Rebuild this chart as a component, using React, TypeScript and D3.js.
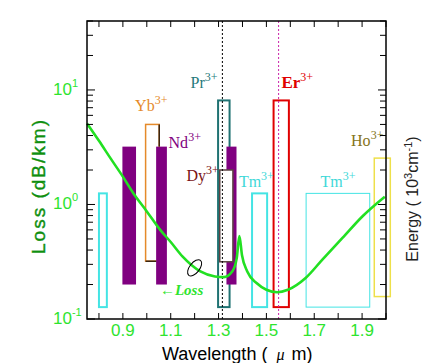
import * as d3 from "d3";

// fibre loss curve (wavelength in um, loss in dB/km)
const lossWavelength = [
  0.75, 0.8, 0.85, 0.9, 0.943, 1.0, 1.056, 1.1, 1.15, 1.224, 1.285, 1.322, 1.357, 1.376,
  1.387, 1.398, 1.42, 1.46, 1.5, 1.545, 1.59, 1.664, 1.734, 1.818, 1.902, 1.995,
];
const lossValue = [
  5.1, 3.6, 2.5, 1.75, 1.26, 0.87, 0.6, 0.47, 0.35, 0.26, 0.235, 0.232, 0.26, 0.34,
  0.53, 0.36, 0.26, 0.205, 0.18, 0.171, 0.18, 0.228, 0.33, 0.51, 0.79, 1.17,
];

// emission bands of the rare-earth ions
const bandIon = ["Tm", "Tm", "Tm", "Yb", "Pr", "Nd", "Nd", "Nd", "Dy", "Er", "Ho"];
const bandFrom = [0.8, 1.44, 1.666, 0.995, 1.298, 0.898, 1.039, 1.333, 1.305, 1.53, 1.951];
const bandTo = [0.833, 1.503, 1.932, 1.052, 1.346, 0.955, 1.084, 1.375, 1.36, 1.594, 2.018];
const bandTop = [1.25, 1.25, 1.25, 5.0, 8.1, 3.2, 3.2, 3.2, 2.0, 8.1, 2.54];
const bandBottom = [0.127, 0.127, 0.127, 0.32, 0.127, 0.2, 0.2, 0.2, 0.316, 0.127, 0.157];

// ion labels, anchored in data coordinates
const labelIon = ["Pr", "Yb", "Nd", "Dy", "Er", "Tm", "Tm", "Ho"];
const labelWavelength = [1.183, 0.951, 1.091, 1.166, 1.563, 1.385, 1.726, 1.854];
const labelValue = [10.4, 6.6, 3.12, 1.59, 10.4, 1.41, 1.41, 3.22];

const xTickLabels = ["0.9", "1.1", "1.3", "1.5", "1.7", "1.9"];
const yTickExponents = ["1", "0", "-1"];
const markerLines = [1.316, 1.551];

const width = 429;
const height = 363;
const margin = { top: 21, right: 43, bottom: 44, left: 87 };

const ionStyle: Record<string, { stroke: string; fill: string; sw: number; text: string }> = {
  Tm: { stroke: "#44e4e4", fill: "none", sw: 2, text: "#3ed8d8" },
  Yb: { stroke: "#e58a2a", fill: "none", sw: 1.5, text: "#e58a2a" },
  Pr: { stroke: "#1f7272", fill: "none", sw: 2, text: "#1f7a7a" },
  Nd: { stroke: "none", fill: "#800080", sw: 0, text: "#800080" },
  Dy: { stroke: "#5c4444", fill: "#ffffff", sw: 1.5, text: "#7a1414" },
  Er: { stroke: "#e00000", fill: "none", sw: 2, text: "#e00000" },
  Ho: { stroke: "#eee04a", fill: "none", sw: 1.5, text: "#857520" },
};

const green = "#2ee42e";

export default function App() {
  const x = d3.scaleLinear([0.75, 2.0], [margin.left, width - margin.right]);
  const y = d3.scaleLog([0.1, 40], [height - margin.bottom, margin.top]);

  const line = d3
    .line<number>()
    .x((_, i) => x(lossWavelength[i]))
    .y((d) => y(d))
    .curve(d3.curveMonotoneX);

  const xTicks = d3.range(8, 21).map((d) => d / 10);
  const yTicks = y.ticks();
  const isMajor = (v: number) => Math.abs(Math.log10(v) - Math.round(Math.log10(v))) < 1e-6;

  const x0 = x(0.75);
  const x1 = x(2.0);
  const y0 = y(0.1);
  const y1 = y(40);

  return (
    <svg
      width={width}
      height={height}
      style={{ position: "absolute", left: 0, top: 0, background: "#fff" }}
    >
      {/* bands */}
      {bandIon.map((ion, i) => {
        const s = ionStyle[ion];
        const sw = ion === "Tm" && i === 2 ? 1 : s.sw;
        return (
          <rect
            key={i}
            x={x(bandFrom[i])}
            y={y(bandTop[i])}
            width={x(bandTo[i]) - x(bandFrom[i])}
            height={y(bandBottom[i]) - y(bandTop[i])}
            fill={s.fill}
            stroke={s.stroke}
            strokeWidth={sw}
          />
        );
      })}
      {/* darker right / bottom edge of the Yb band */}
      <path
        d={`M${x(1.052)},${y(5.0)}V${y(3.2)}M${x(0.995)},${y(0.32)}H${x(1.039)}`}
        stroke="#3a2410"
        strokeWidth={1.5}
        fill="none"
      />

      {/* marker lines */}
      {markerLines.map((w, i) => (
        <line
          key={i}
          x1={x(w)}
          x2={x(w)}
          y1={y1}
          y2={y0}
          stroke={i === 0 ? "#000" : "#cc22aa"}
          strokeWidth={1}
          strokeDasharray="2,2"
        />
      ))}

      {/* loss curve */}
      <path d={line(lossValue) ?? ""} fill="none" stroke="#22e022" strokeWidth={2.6} />

      {/* ellipse marking the curve */}
      <ellipse
        cx={x(1.2)}
        cy={y(0.28)}
        rx={9.5}
        ry={5}
        transform={`rotate(-52 ${x(1.2)} ${y(0.28)})`}
        fill="none"
        stroke="#000"
        strokeWidth={1}
      />
      <text
        x={x(1.055)}
        y={y(0.163)}
        fill={green}
        fontFamily="Liberation Serif"
        fontStyle="italic"
        fontWeight="bold"
        fontSize={15}
      >
        ←Loss
      </text>

      {/* ion labels */}
      {labelIon.map((ion, i) => (
        <text
          key={i}
          x={x(labelWavelength[i])}
          y={y(labelValue[i])}
          fill={ionStyle[ion].text}
          fontFamily="Liberation Serif"
          fontWeight={ion === "Er" ? "bold" : "normal"}
          fontSize={ion === "Er" ? 17 : 16}
        >
          {ion}
          <tspan dy={-7} fontSize={12} fontWeight="normal">
            3+
          </tspan>
        </text>
      ))}

      {/* frame */}
      <rect x={x0} y={y1} width={x1 - x0} height={y0 - y1} fill="none" stroke="#000" strokeWidth={1.5} />

      {/* x ticks, bottom and top, inward */}
      {xTicks.map((t) => (
        <g key={t}>
          <line x1={x(t)} x2={x(t)} y1={y0} y2={y0 - 6} stroke="#000" />
          <line x1={x(t)} x2={x(t)} y1={y1} y2={y1 + 6} stroke="#000" />
        </g>
      ))}
      {xTickLabels.map((l) => (
        <text
          key={l}
          x={x(+l)}
          y={y0 + 17}
          textAnchor="middle"
          fill={green}
          fontFamily="Liberation Sans"
          fontSize={17}
        >
          {l}
        </text>
      ))}

      {/* y ticks, left and right, inward */}
      {yTicks.map((t, i) => {
        const len = isMajor(t) ? 8 : 6;
        return (
          <g key={i}>
            <line x1={x0} x2={x0 + len} y1={y(t)} y2={y(t)} stroke="#000" />
            <line x1={x1} x2={x1 - len} y1={y(t)} y2={y(t)} stroke="#000" />
          </g>
        );
      })}
      {yTickExponents.map((e) => (
        <text
          key={e}
          x={53}
          y={y(Math.pow(10, +e)) + 5}
          fill={green}
          fontFamily="Liberation Sans"
          fontSize={17}
        >
          10
          <tspan dy={-8} fontSize={11}>
            {e}
          </tspan>
        </text>
      ))}

      {/* axis titles */}
      <text
        transform={`translate(45,186) rotate(-90)`}
        textAnchor="middle"
        fill="#0f8f0f"
        stroke="#0f8f0f"
        strokeWidth={0.4}
        fontFamily="Liberation Sans"
        fontSize={19}
        letterSpacing={2}
      >
        Loss (dB/km)
      </text>
      <text x={162} y={360} fill="#000" fontFamily="Liberation Sans" fontSize={18}>
        Wavelength (
        <tspan dx={9} fontFamily="Liberation Serif" fontStyle="italic" fontSize={16}>
          μ
        </tspan>
        <tspan dx={7}>m)</tspan>
      </text>
      <text
        transform={`translate(418,199) rotate(-90)`}
        textAnchor="middle"
        fill="#222"
        fontFamily="Liberation Sans"
        fontSize={16}
      >
        {"Energy ( 10"}
        <tspan dy={-6} fontSize={11}>
          3
        </tspan>
        <tspan dy={6}>cm</tspan>
        <tspan dy={-6} fontSize={11}>
          -1
        </tspan>
        <tspan dy={6}>)</tspan>
      </text>
    </svg>
  );
}
